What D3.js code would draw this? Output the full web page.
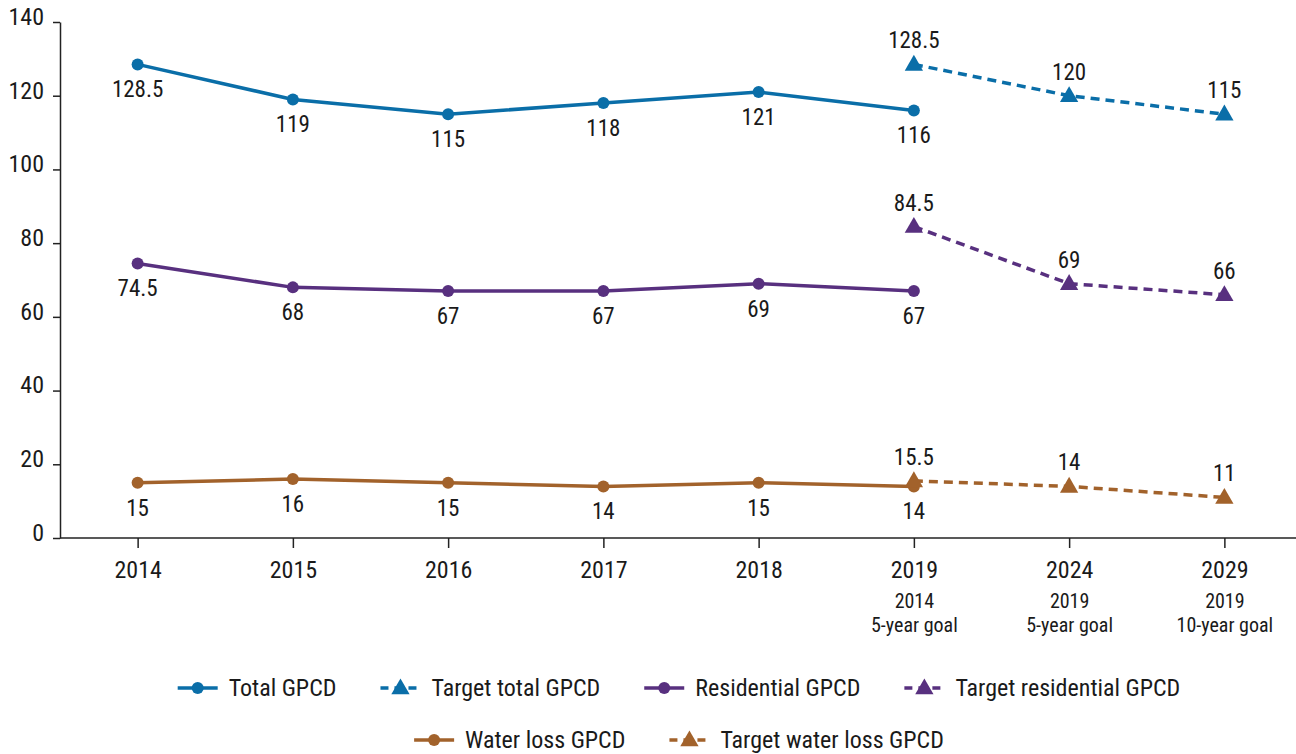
<!DOCTYPE html>
<html>
<head>
<meta charset="utf-8">
<script src="https://cdn.jsdelivr.net/npm/d3@7"></script>
<style>
  body { margin: 0; background: #fff; }
  svg text { font-family: "Roboto Condensed", "Liberation Sans Narrow", Roboto, sans-serif; fill: #1a1a1a; }
</style>
</head>
<body>
<div id="chart"></div>
<script>
// Data
const categories = ['2014', '2015', '2016', '2017', '2018', '2019', '2024', '2029'];
const subLabels = { '2019': ['2014', '5-year goal'], '2024': ['2019', '5-year goal'], '2029': ['2019', '10-year goal'] };
const actualYears = ['2014', '2015', '2016', '2017', '2018', '2019'];
const targetYears = ['2019', '2024', '2029'];
const totalGpcd = [128.5, 119, 115, 118, 121, 116];
const targetTotalGpcd = [128.5, 120, 115];
const residentialGpcd = [74.5, 68, 67, 67, 69, 67];
const targetResidentialGpcd = [84.5, 69, 66];
const waterLossGpcd = [15, 16, 15, 14, 15, 14];
const targetWaterLossGpcd = [15.5, 14, 11];
const yTicks = [0, 20, 40, 60, 80, 100, 120, 140];

const colors = { total: '#0a6ea8', residential: '#58307f', loss: '#a2622b' };

const series = [
    { name: 'Total GPCD', years: actualYears, values: totalGpcd, color: colors.total, target: false },
    { name: 'Target total GPCD', years: targetYears, values: targetTotalGpcd, color: colors.total, target: true },
    { name: 'Residential GPCD', years: actualYears, values: residentialGpcd, color: colors.residential, target: false },
    { name: 'Target residential GPCD', years: targetYears, values: targetResidentialGpcd, color: colors.residential, target: true },
    { name: 'Water loss GPCD', years: actualYears, values: waterLossGpcd, color: colors.loss, target: false },
    { name: 'Target water loss GPCD', years: targetYears, values: targetWaterLossGpcd, color: colors.loss, target: true }
];

const width = 1296, height = 754;
const margin = { top: 22, right: -6, bottom: 216, left: 60 };

const svg = d3.select('#chart').append('svg')
    .attr('width', width)
    .attr('height', height);

const x = d3.scalePoint()
    .domain(categories)
    .range([margin.left, width - margin.right])
    .padding(0.5);

const y = d3.scaleLinear()
    .domain([0, 140])
    .range([height - margin.bottom, margin.top]);

// Y axis
const yAxis = svg.append('g')
    .attr('transform', `translate(${margin.left},0)`)
    .call(d3.axisLeft(y).tickValues(yTicks).tickSize(7).tickPadding(9).tickSizeOuter(0));
yAxis.select('.domain').attr('stroke', '#222').attr('stroke-width', 1.5);
yAxis.selectAll('.tick line').attr('stroke', '#222').attr('stroke-width', 1.5);
yAxis.selectAll('.tick text').attr('font-size', 24).attr('dy', '0.1em');

// X axis
const xAxis = svg.append('g')
    .attr('transform', `translate(0,${y(0)})`)
    .call(d3.axisBottom(x).tickSize(10).tickPadding(14).tickSizeOuter(0));
xAxis.select('.domain').attr('stroke', '#222').attr('stroke-width', 1.5)
    .attr('d', `M${margin.left},0H${width}`);
xAxis.selectAll('.tick line').attr('stroke', '#222').attr('stroke-width', 1.5);
xAxis.selectAll('.tick text').attr('font-size', 24).attr('dy', '0.65em');
xAxis.selectAll('.tick').each(function (d) {
    const sub = subLabels[d];
    if (!sub) return;
    sub.forEach((s, i) => {
        d3.select(this).append('text')
            .attr('y', 70 + i * 24)
            .attr('text-anchor', 'middle')
            .attr('font-size', 20)
            .attr('fill', '#1a1a1a')
            .text(s);
    });
});

const line = d3.line()
    .x(d => x(d.year))
    .y(d => y(d.value));

const triangle = d3.symbol().type(d3.symbolTriangle).size(145);

series.forEach(s => {
    const pts = s.years.map((yr, i) => ({ year: yr, value: s.values[i] }));
    const g = svg.append('g');

    g.append('path')
        .datum(pts)
        .attr('fill', 'none')
        .attr('stroke', s.color)
        .attr('stroke-width', 3.5)
        .attr('stroke-dasharray', s.target ? '9,6' : null)
        .attr('d', line);

    if (s.target) {
        g.selectAll('path.mark')
            .data(pts)
            .join('path')
            .attr('class', 'mark')
            .attr('transform', d => `translate(${x(d.year)},${y(d.value) + 1})`)
            .attr('d', triangle)
            .attr('fill', s.color);
    } else {
        g.selectAll('circle')
            .data(pts)
            .join('circle')
            .attr('cx', d => x(d.year))
            .attr('cy', d => y(d.value))
            .attr('r', 6)
            .attr('fill', s.color);
    }

    g.selectAll('text')
        .data(pts)
        .join('text')
        .attr('x', d => x(d.year))
        .attr('y', d => y(d.value) + (s.target ? -16 : 33))
        .attr('text-anchor', 'middle')
        .attr('font-size', 23)
        .text(d => d.value);
});

// Legend
const legendRows = [series.slice(0, 4), series.slice(4)];
const legendY = [688, 740];
const gap = 44;
legendRows.forEach((row, ri) => {
    const lg = svg.append('g');
    let cx = 0;
    row.forEach(s => {
        const item = lg.append('g').attr('transform', `translate(${cx},0)`);
        item.append('line')
            .attr('x1', 0).attr('x2', 40)
            .attr('stroke', s.color)
            .attr('stroke-width', 3.5)
            .attr('stroke-dasharray', s.target ? '8,6' : null);
        if (s.target) {
            item.append('path')
                .attr('transform', 'translate(20,1)')
                .attr('d', triangle)
                .attr('fill', s.color);
        } else {
            item.append('circle').attr('cx', 20).attr('r', 6).attr('fill', s.color);
        }
        const t = item.append('text')
            .attr('x', 51)
            .attr('dy', '0.35em')
            .attr('font-size', 24)
            .text(s.name);
        cx += 51 + t.node().getComputedTextLength() + gap;
    });
    const totalW = cx - gap;
    lg.attr('transform', `translate(${679 - totalW / 2},${legendY[ri]})`);
});
</script>
</body>
</html>
